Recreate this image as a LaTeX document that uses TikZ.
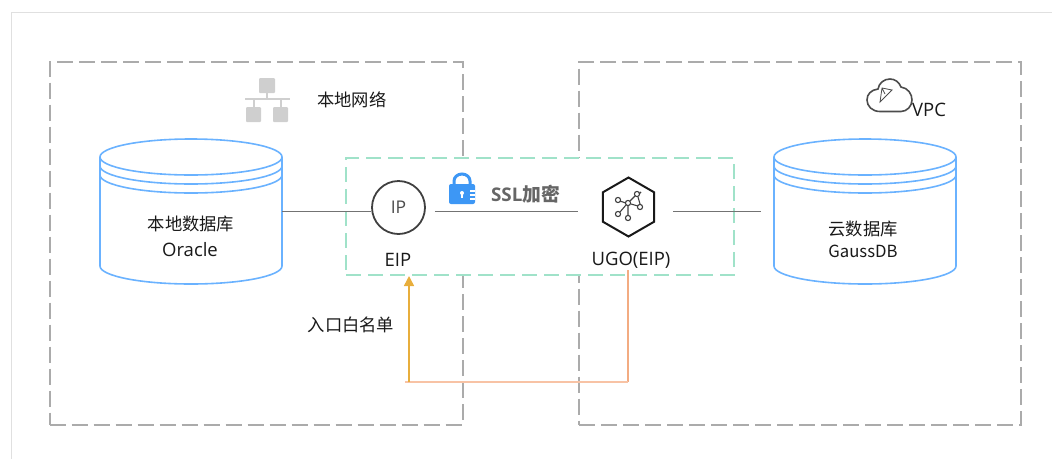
\documentclass[tikz,border=0pt]{standalone}
\usepackage{fontspec}
\setmainfont{Open Sans}
\newfontfamily\cjk{Noto Sans CJK SC}
\usetikzlibrary{arrows.meta,shapes.geometric}
\definecolor{framegray}{HTML}{ABABAB}
\definecolor{tunnelgreen}{HTML}{A0E2C9}
\definecolor{dbblue}{HTML}{6AB2FF}
\definecolor{lockblue}{HTML}{3D97F5}
\definecolor{backorange}{HTML}{F3AC82}
\definecolor{backlight}{HTML}{F8C3A5}
\definecolor{entryyellow}{HTML}{E8AE3C}
\definecolor{icongray}{HTML}{CFCFCF}
\begin{document}
\begin{tikzpicture}[x=1pt,y=-1pt]
\tikzstyle{zone} = [draw=framegray, line width=2pt, dash pattern=on 16pt off 6pt, inner sep=0pt, outer sep=0pt, anchor=north west] % local network and VPC
\tikzstyle{tunnel} = [draw=tunnelgreen, line width=2.2pt, dash pattern=on 15pt off 7pt, fill=white, inner sep=0pt, outer sep=0pt, anchor=north west] % encrypted zone
\tikzstyle{dbbox} = [minimum width=182pt, minimum height=145pt, inner sep=0pt, outer sep=0pt] % database outline
\tikzstyle{dbline} = [draw=dbblue, line width=1.6pt]
\tikzstyle{link} = [draw=black!55, line width=1.6pt]
\tikzstyle{txt} = [font=\fontsize{18.5}{26}\selectfont, align=center, text=black!90, inner sep=0pt]
\tikzstyle{cjktxt} = [font=\fontsize{17.3}{26}\selectfont\cjk, align=center, text=black!90, inner sep=0pt]
\useasboundingbox (0,0) rectangle (1052,459);
\draw[black!12, line width=1pt] (11.5,459) -- (11.5,12.5) -- (1052,12.5); % page edge

\node[zone, minimum width=413pt, minimum height=363pt] (localzone) at (49.5,61.5) {};
\node[zone, minimum width=442pt, minimum height=363pt] (vpczone) at (579,61.5) {};
\node[tunnel, minimum width=388pt, minimum height=117pt] (sslzone) at (346,158) {};

% databases
\node[dbbox] (oracle) at (191,211.5) {};
\node[dbbox] (gauss) at (865,211.5) {};
\foreach \db in {oracle,gauss} {
    \draw[dbline] ([yshift=-18pt]\db.north west) arc[start angle=180, end angle=540, x radius=91pt, y radius=18pt]; % top
    \draw[dbline] ([yshift=-18pt]\db.north west) -- ([yshift=18pt]\db.south west)
        arc[start angle=180, end angle=360, x radius=91pt, y radius=18pt] -- ([yshift=-18pt]\db.north east);
    \draw[dbline] ([yshift=-27pt]\db.north west) arc[start angle=180, end angle=360, x radius=91pt, y radius=18pt];
    \draw[dbline] ([yshift=-36pt]\db.north west) arc[start angle=180, end angle=360, x radius=91pt, y radius=18pt];
}
\node[cjktxt] (oracletitle) at (191,224) {本地数据库};
\node[txt] (oracletext) at (190,250) {Oracle};
\node[cjktxt] (gausstitle) at (863,229) {云数据库};
\node[cjktxt, font=\fontsize{16.7}{20}\selectfont\cjk] (gausstext) at (863,251) {GaussDB};

% eip and ugo
\node[circle, draw=black!75, line width=1.8pt, minimum size=53pt, inner sep=0pt, font=\fontsize{17.5}{18}\selectfont, text=black!70] (ip) at (398.5,207.5) {IP};
\node[regular polygon, regular polygon sides=6, shape border rotate=30, draw=black!90, line width=2pt, minimum size=59pt, inner sep=0pt] (ugo) at (628.5,207) {};
\node[txt] (eiplabel) at (398,260) {EIP};
\node[txt] (ugolabel) at (631,260) {UGO(EIP)};

\draw[link] (oracle.east) -- (ip.west |- oracle.east);
\draw[link, shorten <=9pt, shorten >=24pt] (ip.east |- oracle.east) -- (ugo.west |- oracle.east);
\draw[link, shorten <=18pt, shorten >=13pt] (ugo.east |- oracle.east) -- (gauss.west);

% small graph inside ugo
\foreach \a/\b in {618/200,628/203,637/194,618/214,628/218,640/207} {
    \draw[black!75, line width=1.1pt] (\a,\b) circle[radius=2.6pt];
}
\draw[black!75, line width=1.1pt] (620,201) -- (626,203) (630,201) -- (635,196) (639,194) -- (641,192) (638,197) -- (640,204) (631,204) -- (638,206) (620,212) -- (626,205) (628,206) -- (628,215);

% lock
\node[fill=lockblue, rounded corners=2pt, minimum width=26pt, minimum height=20pt, inner sep=0pt] (lock) at (462,194) {};
\draw[lockblue, line width=3pt] (454,185) -- (454,181) arc[start angle=180, end angle=0, x radius=8pt, y radius=7pt] -- (470,185);
\fill[white] (462,193) circle[radius=2pt];
\draw[white, line width=1.2pt] (462,193) -- (462,198) (470,191) -- (475,191) (470,195) -- (475,195) (470,199) -- (475,199);
\node[font=\fontsize{18.8}{20}\selectfont\bfseries, text=black!60, inner sep=0pt] (ssllabel) at (525.5,194) {SSL{\cjk 加密}};

% local network icon
\node[fill=icongray, rounded corners=1pt, minimum width=16pt, minimum height=15pt, inner sep=0pt] (hubbox) at (267,85.5) {};
\node[fill=icongray, rounded corners=1pt, minimum width=15pt, minimum height=15pt, inner sep=0pt] (leftbox) at (253.5,114.5) {};
\node[fill=icongray, rounded corners=1pt, minimum width=15pt, minimum height=15pt, inner sep=0pt] (rightbox) at (280.5,114.5) {};
\draw[icongray, line width=2pt] (hubbox.south) -- (267,99) (245,99) -- (290,99) (leftbox.north) -- (253.5,99) (rightbox.north) -- (280.5,99);
\node[cjktxt, anchor=west] (locallabel) at (317,100) {本地网络};

% vpc icon
\draw[black!70, line width=1.6pt] (880,111.5) .. controls (872,111.5) and (867,106) .. (867,100) .. controls (867,94) and (871,90) .. (878,89) .. controls (879,83) and (884,79) .. (890,79) .. controls (895,79) and (899,82) .. (901,87) .. controls (908,88) and (912,94) .. (912,100) .. controls (912,106) and (907,111.5) .. (901,111.5) -- cycle;
\draw[black!70, line width=0.8pt] (882,88) -- (892,90) -- (880,102) -- cycle (882,88) -- (885,94);
\node[txt, anchor=west] (vpclabel) at (912,110) {VPC};

% whitelist return path
\coordinate (turnugo) at (628,382);
\coordinate (turneip) at (405,382);
\coordinate (eiparrow) at (409,382);
\draw[backorange, line width=1.3pt] (628,270) -- (turnugo);
\draw[backlight, line width=2.6pt] (turnugo) -- (turneip);
\draw[entryyellow, line width=1.5pt, -{Triangle[length=10pt,width=10pt]}] (eiparrow) -- (409,276);
\node[cjktxt] (whitelabel) at (351,325) {入口白名单};
\end{tikzpicture}
\end{document}
